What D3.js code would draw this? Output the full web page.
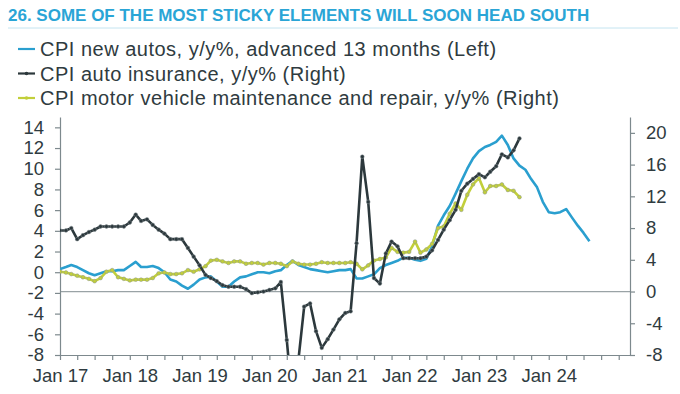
<!DOCTYPE html>
<html>
<head>
<meta charset="utf-8">
<style>
  body { margin: 0; background: #fff; }
  svg text { font-family: "Liberation Sans", Arial, sans-serif; fill: #2f3b40; }
  .axis path, .axis line { stroke: #7d898d; stroke-width: 1.2px; }
</style>
</head>
<body>
<div id="chart"></div>
<script src="https://cdn.jsdelivr.net/npm/d3@7"></script>
<script>
// monthly, new autos starts Jan 2017 (already shifted 13 months)
var newAutos = [0.3, 0.5, 0.7, 0.5, 0.2, -0.1, -0.3, -0.1, 0.1, 0.1, 0.2, 0.2,
  0.6, 1.0, 0.5, 0.5, 0.6, 0.4, 0.0, -0.7, -0.9, -1.3, -1.6, -1.2,
  -0.7, -0.5, -0.4, -0.9, -1.4, -1.4, -0.9, -0.5, -0.4, -0.2, 0.0, 0.0,
  -0.1, 0.1, 0.2, 0.7, 1.1, 0.7, 0.5, 0.3, 0.2, 0.1, 0.0, 0.1,
  0.2, 0.2, 0.3, -0.6, -0.6, -0.4, -0.2, 0.4, 0.7, 0.9, 1.1, 1.4,
  1.4, 1.2, 1.1, 1.3, 2.5, 4.5, 5.5, 6.4, 7.6, 8.8, 10.0, 11.0,
  11.7, 12.1, 12.3, 12.6, 13.2, 12.3, 11.0, 10.3, 9.9, 9.0, 8.2, 6.8,
  5.8, 5.7, 5.8, 6.1, 5.3, 4.5, 3.8, 3.0];

// monthly from Jan 2017 to Aug 2023
var autoInsurance = [7.7, 7.7, 8.0, 6.6, 7.1, 7.5, 7.8, 8.2, 8.2, 8.2, 8.2, 8.2,
  8.7, 9.7, 8.9, 9.1, 8.4, 7.8, 7.3, 6.6, 6.6, 6.6, 5.5, 4.4,
  3.3, 2.1, 1.7, 1.3, 0.8, 0.6, 0.6, 0.6, 0.3, -0.2, -0.1, 0.0,
  0.2, 0.4, 1.2, -6.1, -14.0, -8.6, -1.9, -1.5, -5.0, -7.1, -6.0, -4.8,
  -3.5, -2.7, -2.5, 6.1, 17.0, 11.3, 1.7, 1.0, 4.8, 6.3, 5.7, 4.2,
  4.2, 4.2, 4.2, 4.4, 5.2, 6.5, 7.8, 9.0, 10.3, 12.7, 13.6, 14.2,
  14.8, 14.4, 15.1, 15.8, 17.3, 16.9, 17.8, 19.3];

var maintenance = [2.5, 2.4, 2.2, 2.0, 1.8, 1.6, 1.3, 1.7, 2.5, 2.7, 1.8, 1.6,
  1.4, 1.5, 1.5, 1.5, 1.7, 2.3, 2.4, 2.2, 2.2, 2.3, 2.7, 2.5,
  2.8, 3.2, 3.9, 4.0, 3.8, 3.6, 3.8, 3.8, 3.5, 3.6, 3.6, 3.4,
  3.6, 3.6, 3.5, 3.2, 3.8, 3.5, 3.4, 3.4, 3.5, 3.7, 3.6, 3.6,
  3.6, 3.6, 3.7, 3.5, 2.8, 3.3, 3.9, 4.1, 4.3, 5.5, 5.0, 4.9,
  5.0, 6.3, 4.9, 5.3, 6.0, 8.0, 8.2, 9.8, 11.1, 10.3, 12.2, 13.5,
  14.3, 12.5, 13.3, 13.3, 13.5, 12.8, 12.7, 11.9];

var leftTicks = [-8, -6, -4, -2, 0, 2, 4, 6, 8, 10, 12, 14];
var rightTicks = [-8, -4, 0, 4, 8, 12, 16, 20];
var labelYears = [2017, 2018, 2019, 2020, 2021, 2022, 2023, 2024];

var legendNames = [
  "CPI new autos, y/y%, advanced 13 months (Left)",
  "CPI auto insurance, y/y% (Right)",
  "CPI motor vehicle maintenance and repair, y/y% (Right)"
];

var blue = "#2a9fcf", dark = "#2c383c", lime = "#c2cf3a";

var width = 680, height = 394;
var plot = {left: 60, right: 630, top: 117, bottom: 355};
var tickFont = 18.5;

var svg = d3.select("#chart").append("svg")
  .attr("width", width)
  .attr("height", height);

var start = new Date(2017, 0, 1);
function monthDate(i) { return d3.timeMonth.offset(start, i); }

var x = d3.scaleTime()
  .domain([start, new Date(2025, 2, 1)])
  .range([plot.left, plot.right]);
var yL = d3.scaleLinear().domain([-8, 15]).range([plot.bottom, plot.top]);
var yR = d3.scaleLinear().domain([-8, 22]).range([plot.bottom, plot.top]);

// title
svg.append("text")
  .attr("x", 8)
  .attr("y", 21)
  .style("font-size", "17px")
  .style("font-weight", "bold")
  .style("fill", "#2aa5d6")
  .text("26.  SOME OF THE MOST STICKY ELEMENTS WILL SOON HEAD SOUTH");

svg.append("line")
  .attr("x1", 8).attr("x2", 678)
  .attr("y1", 28).attr("y2", 28)
  .attr("stroke", "#c4e4f0")
  .attr("stroke-width", 1);

// legend
var legend = svg.append("g");
var legendColors = [blue, dark, lime];
legendNames.forEach(function(name, i) {
  var ly = 49 + i * 24.5;
  legend.append("line")
    .attr("x1", 18).attr("x2", 35)
    .attr("y1", ly).attr("y2", ly)
    .attr("stroke", legendColors[i])
    .attr("stroke-width", 2.2);
  if (i > 0) {
    legend.append("circle")
      .attr("cx", 26.5).attr("cy", ly).attr("r", 1.8)
      .attr("fill", legendColors[i]);
  }
  legend.append("text")
    .attr("x", 40)
    .attr("y", ly)
    .attr("dy", "0.35em")
    .style("font-size", "20px")
    .style("letter-spacing", "0.5px")
    .text(name);
});

// zero line of right axis
svg.append("line")
  .attr("x1", plot.left).attr("x2", plot.right)
  .attr("y1", yR(0)).attr("y2", yR(0))
  .attr("stroke", "#9aa3a6")
  .attr("stroke-width", 1.2);

// axes
var xTicks = d3.timeMonth.every(3).range(start, new Date(2025, 1, 2));

var xAxis = svg.append("g")
  .attr("class", "axis")
  .attr("transform", "translate(0," + plot.bottom + ")")
  .call(d3.axisBottom(x)
    .tickValues(xTicks)
    .tickSize(5)
    .tickPadding(8.5)
    .tickSizeOuter(0)
    .tickFormat(function(d) {
      return d.getMonth() === 0 && labelYears.indexOf(d.getFullYear()) >= 0
        ? "Jan " + String(d.getFullYear()).slice(2) : "";
    }));
xAxis.selectAll("text").style("font-size", tickFont + "px");

var leftAxis = svg.append("g")
  .attr("class", "axis")
  .attr("transform", "translate(" + plot.left + ",0)")
  .call(d3.axisLeft(yL).tickValues(leftTicks).tickSize(5).tickPadding(11)
    .tickSizeOuter(0).tickFormat(function(d) { return String(d); }));
leftAxis.selectAll("text").style("font-size", tickFont + "px");

var rightAxis = svg.append("g")
  .attr("class", "axis")
  .attr("transform", "translate(" + plot.right + ",0)")
  .call(d3.axisRight(yR).tickValues(rightTicks).tickSize(5).tickPadding(11)
    .tickSizeOuter(0).tickFormat(function(d) { return String(d); }));
rightAxis.selectAll("text").style("font-size", tickFont + "px");

svg.selectAll(".axis .domain").attr("stroke", "#7d898d");

// series
svg.append("clipPath").attr("id", "clip")
  .append("rect")
  .attr("x", plot.left).attr("y", plot.top)
  .attr("width", plot.right - plot.left)
  .attr("height", plot.bottom - plot.top);

var g = svg.append("g").attr("clip-path", "url(#clip)");

function drawLine(values, y, color, markers) {
  var line = d3.line()
    .x(function(d, i) { return x(monthDate(i)); })
    .y(function(d) { return y(d); });
  g.append("path")
    .datum(values)
    .attr("fill", "none")
    .attr("stroke", color)
    .attr("stroke-width", 2.6)
    .attr("stroke-linejoin", "round")
    .attr("d", line);
  if (markers) {
    g.selectAll(null)
      .data(values)
      .enter()
      .append("circle")
      .attr("cx", function(d, i) { return x(monthDate(i)); })
      .attr("cy", function(d) { return y(d); })
      .attr("r", 1.9)
      .attr("fill", color)
      .attr("stroke", "#8a9498")
      .attr("stroke-width", 0.5);
  }
}

drawLine(newAutos, yL, blue, false);
drawLine(maintenance, yR, lime, true);
drawLine(autoInsurance, yR, dark, true);
</script>
</body>
</html>
